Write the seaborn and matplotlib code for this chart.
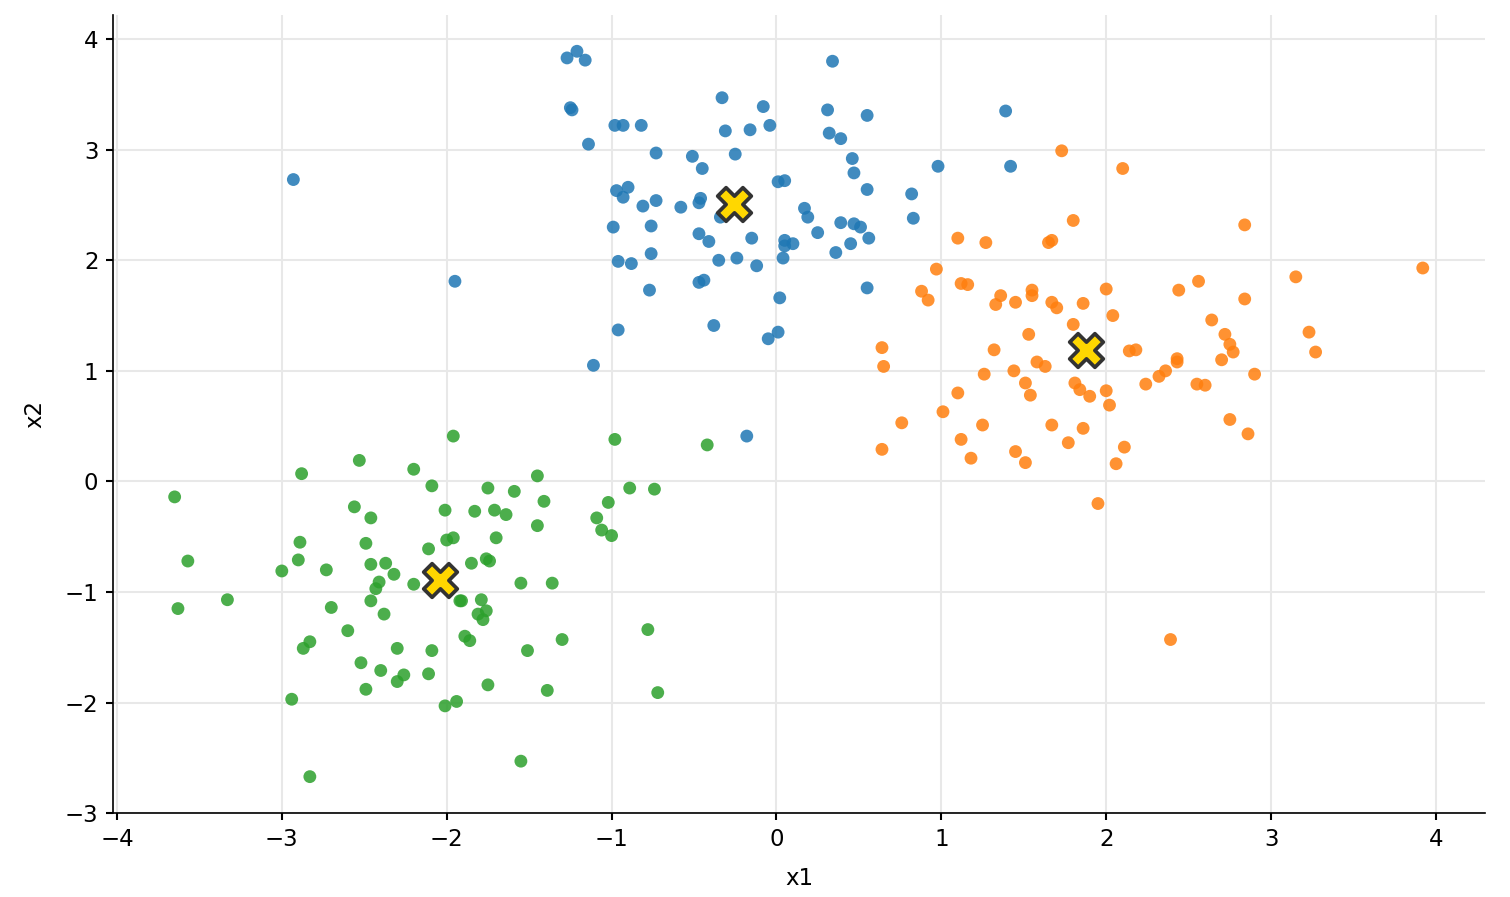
import numpy as np
import pandas as pd
import seaborn as sns
from matplotlib import pyplot as plt

# cluster 0 (blue)
blue_x = [-1.27, -1.21, -1.16, -1.25, -1.24, -1.14, -0.98, -0.93, -0.82, -0.33,
          -0.08, -0.04, -0.31, -0.16, 0.34, 0.31, 0.32, 0.39, 0.46, 0.47,
          0.55, 0.55, 1.39, 1.42, 0.98, 0.82, 0.83, -0.73, -0.51, -0.45,
          -0.25, -0.97, -0.90, -0.93, -0.81, -0.73, -0.58, -0.47, -0.46, -0.76,
          -0.99, -0.47, -0.41, -0.15, 0.01, 0.05, 0.17, 0.19, 0.25, 0.39,
          0.47, 0.51, 0.45, 0.56, 0.05, 0.05, 0.10, 0.04, 0.36, -0.24,
          -0.35, -0.12, -0.96, -0.88, -0.76, -0.77, -0.47, -0.44, 0.02, 0.55,
          -0.96, -0.38, 0.01, -0.05, -1.11, -0.18, -2.93, -1.95, -0.34]
blue_y = [3.83, 3.89, 3.81, 3.38, 3.36, 3.05, 3.22, 3.22, 3.22, 3.47,
          3.39, 3.22, 3.17, 3.18, 3.80, 3.36, 3.15, 3.10, 2.92, 2.79,
          3.31, 2.64, 3.35, 2.85, 2.85, 2.60, 2.38, 2.97, 2.94, 2.83,
          2.96, 2.63, 2.66, 2.57, 2.49, 2.54, 2.48, 2.52, 2.56, 2.31,
          2.30, 2.24, 2.17, 2.20, 2.71, 2.72, 2.47, 2.39, 2.25, 2.34,
          2.33, 2.30, 2.15, 2.20, 2.18, 2.13, 2.15, 2.02, 2.07, 2.02,
          2.00, 1.95, 1.99, 1.97, 2.06, 1.73, 1.80, 1.82, 1.66, 1.75,
          1.37, 1.41, 1.35, 1.29, 1.05, 0.41, 2.73, 1.81, 2.39]

# cluster 1 (orange)
orange_x = [1.73, 2.10, 1.80, 1.10, 1.27, 1.65, 1.67, 0.97, 0.88, 0.92,
            1.12, 1.16, 1.36, 1.33, 1.45, 1.55, 1.55, 1.67, 1.70, 1.86,
            2.00, 2.04, 1.80, 1.53, 2.44, 2.56, 0.64, 0.65, 1.32, 1.58,
            1.63, 1.44, 1.26, 1.51, 1.54, 1.10, 1.01, 0.76, 0.64, 1.25,
            1.12, 1.18, 1.45, 1.51, 1.67, 1.77, 1.86, 1.81, 1.84, 1.90,
            2.00, 2.02, 2.14, 2.18, 2.43, 2.43, 2.36, 2.32, 2.24, 2.55,
            2.60, 2.11, 2.06, 1.95, 2.84, 3.15, 3.92, 2.84, 2.64, 2.72,
            2.75, 2.77, 2.70, 3.23, 3.27, 2.90, 2.75, 2.86, 2.39]
orange_y = [2.99, 2.83, 2.36, 2.20, 2.16, 2.16, 2.18, 1.92, 1.72, 1.64,
            1.79, 1.78, 1.68, 1.60, 1.62, 1.73, 1.68, 1.62, 1.57, 1.61,
            1.74, 1.50, 1.42, 1.33, 1.73, 1.81, 1.21, 1.04, 1.19, 1.08,
            1.04, 1.00, 0.97, 0.89, 0.78, 0.80, 0.63, 0.53, 0.29, 0.51,
            0.38, 0.21, 0.27, 0.17, 0.51, 0.35, 0.48, 0.89, 0.83, 0.77,
            0.82, 0.69, 1.18, 1.19, 1.11, 1.08, 1.00, 0.95, 0.88, 0.88,
            0.87, 0.31, 0.16, -0.20, 2.32, 1.85, 1.93, 1.65, 1.46, 1.33,
            1.24, 1.17, 1.10, 1.35, 1.17, 0.97, 0.56, 0.43, -1.43]

# cluster 2 (green)
green_x = [-1.96, -2.53, -2.88, -2.20, -2.09, -3.65, -2.56, -2.46, -2.01, -2.89,
           -2.49, -2.00, -1.96, -2.11, -2.90, -3.57, -3.00, -2.73, -2.46, -2.37,
           -2.32, -2.41, -2.43, -2.20, -3.33, -3.63, -2.70, -2.46, -2.38, -1.92,
           -0.98, -1.45, -1.75, -1.59, -1.41, -0.89, -0.74, -1.02, -1.09, -1.06,
           -1.00, -1.83, -1.71, -1.64, -1.45, -1.70, -1.85, -1.76, -1.74, -1.55,
           -1.36, -1.91, -1.79, -1.81, -1.76, -1.78, -2.60, -2.87, -2.83, -2.30,
           -2.09, -1.89, -1.86, -1.51, -1.30, -0.78, -2.52, -2.40, -2.26, -2.30,
           -2.11, -2.49, -1.75, -1.39, -0.72, -2.94, -2.01, -1.94, -1.55, -2.83,
           -0.42]
green_y = [0.41, 0.19, 0.07, 0.11, -0.04, -0.14, -0.23, -0.33, -0.26, -0.55,
           -0.56, -0.53, -0.51, -0.61, -0.71, -0.72, -0.81, -0.80, -0.75, -0.74,
           -0.84, -0.91, -0.97, -0.93, -1.07, -1.15, -1.14, -1.08, -1.20, -1.08,
           0.38, 0.05, -0.06, -0.09, -0.18, -0.06, -0.07, -0.19, -0.33, -0.44,
           -0.49, -0.27, -0.26, -0.30, -0.40, -0.51, -0.74, -0.70, -0.72, -0.92,
           -0.92, -1.08, -1.07, -1.20, -1.17, -1.25, -1.35, -1.51, -1.45, -1.51,
           -1.53, -1.40, -1.44, -1.53, -1.43, -1.34, -1.64, -1.71, -1.75, -1.81,
           -1.74, -1.88, -1.84, -1.89, -1.91, -1.97, -2.03, -1.99, -2.53, -2.67,
           0.33]

# cluster centres
centre_x = [-0.26, 1.88, -2.04]
centre_y = [2.51, 1.19, -0.89]

points = pd.DataFrame({
    "x1": blue_x + orange_x + green_x,
    "x2": blue_y + orange_y + green_y,
    "cluster": [0] * len(blue_x) + [1] * len(orange_x) + [2] * len(green_x),
})
centres = pd.DataFrame({"x1": centre_x, "x2": centre_y})

sns.set_style("white")
fig = plt.figure(figsize=(10.07, 5.98), dpi=150)
ax = fig.add_axes([0.0748, 0.0935, 0.9086, 0.890])

sns.scatterplot(data=points, x="x1", y="x2", hue="cluster",
                palette=["#1f77b4", "#ff7f0e", "#2ca02c"],
                s=38, alpha=0.85, linewidth=0, legend=False, ax=ax)
sns.scatterplot(data=centres, x="x1", y="x2", marker="X", s=260,
                color="#FFD700", edgecolor="#333333", linewidth=1.8,
                legend=False, ax=ax, zorder=5)

ax.set_xlim(-4.024, 4.30)
ax.set_ylim(-3.0, 4.22)
ax.set_xticks(range(-4, 5))
ax.set_yticks(range(-3, 5))
ax.grid(True, color="#e8e8e8", linewidth=1.0)
ax.set_axisbelow(True)
ax.tick_params(axis="both", labelsize=11, length=3.5, width=1.0,
               colors="black", bottom=True, left=True)
ax.set_xlabel("x1", fontsize=11, color="black", labelpad=8)
ax.set_ylabel("x2", fontsize=11, color="black", labelpad=9)
for side in ["left", "bottom"]:
    ax.spines[side].set_color("black")
sns.despine(ax=ax)

plt.savefig("out.png", dpi=150)
